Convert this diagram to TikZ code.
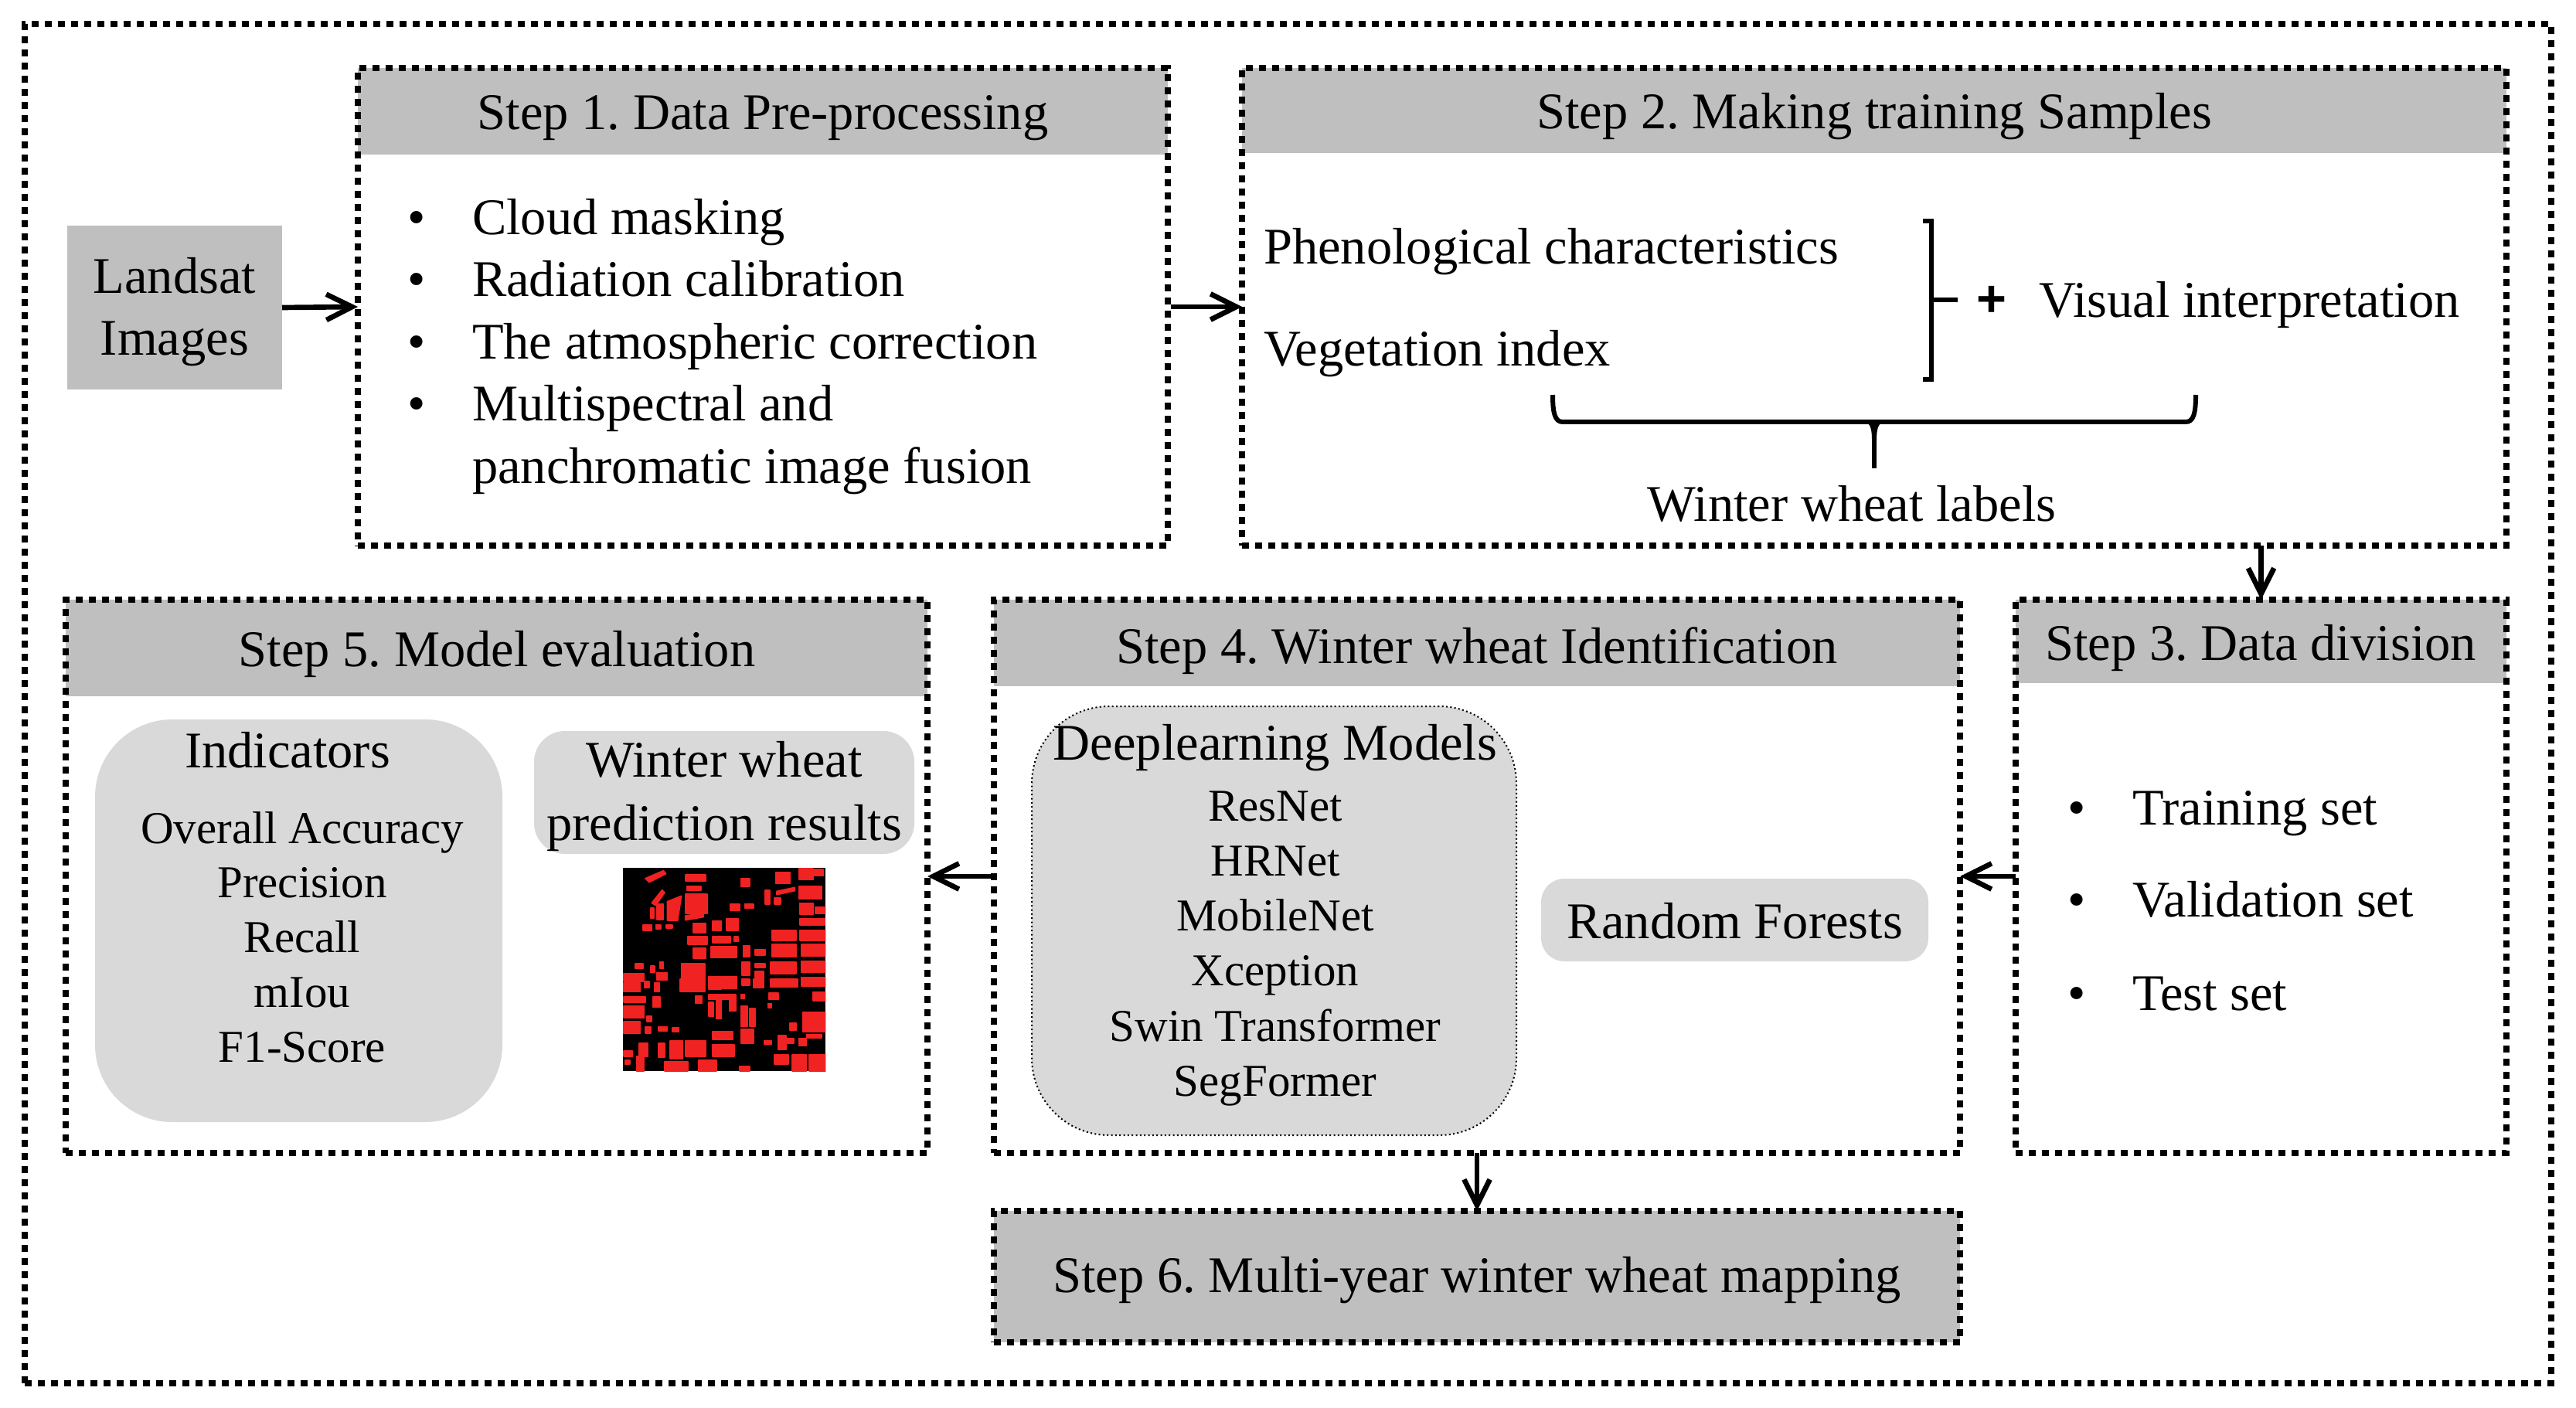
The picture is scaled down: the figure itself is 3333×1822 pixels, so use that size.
\documentclass[tikz,border=0pt]{standalone}
\usepackage{fontspec}
\setmainfont{Liberation Serif}
\newfontfamily\plusfont{Liberation Sans}
\frenchspacing
\usetikzlibrary{fit,arrows.meta}
\definecolor{hdr}{HTML}{BFBFBF}
\definecolor{pale}{HTML}{D9D9D9}
\definecolor{wheat}{HTML}{F02222}
\tikzset{
  every node/.style={font=\fontsize{19.95pt}{24pt}\selectfont,inner sep=0pt,outer sep=0pt},
  area/.style={inner sep=0pt},
  dotted frame/.style={area,draw=black,line width=2.4pt,dash pattern=on 2.7pt off 2.4pt},
  outer frame/.style={dotted frame},
  header/.style={area,fill=hdr},
  pill/.style={area,fill=pale,rounded corners=#1},
  flow/.style={draw=black,line width=2pt,-{Straight Barb[length=10pt,width=10pt,line width=2pt]}},
  brk/.style={draw=black,line width=1.8pt},
  txt/.style={anchor=base},
  ltxt/.style={anchor=base west},
  small txt/.style={anchor=base,font=\fontsize{17.7pt}{22pt}\selectfont},
}
\begin{document}
\begin{tikzpicture}[x=0.3pt,y=0.3pt]
\useasboundingbox (0,0) rectangle (3333,-1822);
\fill[white] (0,0) rectangle (3333,-1822);
% headers and fills
\node[header,fit={(463,-88)(1511,-200)}] (h1) {};
\node[anchor=base] (t1) at (987,-168) {Step 1. Data Pre-processing};
\node[header,fit={(1607,-88)(3243,-198)}] (h2) {};
\node[anchor=base] (t2) at (2425,-167) {Step 2. Making training Samples};
\node[header,fit={(2608,-776)(3243,-884)}] (h3) {};
\node[anchor=base] (t3) at (2925,-854) {Step 3. Data division};
\node[header,fit={(1286,-776)(2536,-888)}] (h4) {};
\node[anchor=base] (t4) at (1911,-858) {Step 4. Winter wheat Identification};
\node[header,fit={(85,-776)(1200,-901)}] (h5) {};
\node[anchor=base] (t5) at (643,-862) {Step 5. Model evaluation};
\node[header,fit={(1286,-1567)(2536,-1737)}] (h6f) {};
\node[anchor=base] (t6) at (1911,-1672) {Step 6. Multi-year winter wheat mapping};
\node[header,fit={(87,-292)(365,-504)}] (land) {};
\node[anchor=base] (l1) at (226,-380) {Landsat};
\node[anchor=base] (l2) at (226,-460) {Images};
% frames
\node[outer frame,fit={(32,-31)(3301,-1790)}] (outer) {};
\node[dotted frame,fit={(463,-88)(1511,-706)}] (s1) {};
\node[dotted frame,fit={(1607,-88)(3243,-706)}] (s2) {};
\node[dotted frame,fit={(2608,-776)(3243,-1492)}] (s3) {};
\node[dotted frame,fit={(1286,-776)(2536,-1492)}] (s4) {};
\node[dotted frame,fit={(85,-776)(1200,-1492)}] (s5) {};
\node[dotted frame,fit={(1286,-1567)(2536,-1737)}] (s6) {};
% step 1 list
\foreach \n/\y/\s in {a/304/Cloud masking,b/384/Radiation calibration,c/465/The atmospheric correction,d/545/Multispectral and}
  {\node[txt] (bul\n) at (539,-\y) {•};
   \node[ltxt] (it\n) at (611,-\y) {\s};}
\node[ltxt] (ite) at (611,-625) {panchromatic image fusion};
% step 2
\node[ltxt] (phen) at (1635,-342) {Phenological characteristics};
\node[ltxt] (veg) at (1635,-474) {Vegetation index};
\node[font=\fontsize{20pt}{24pt}\selectfont\plusfont\bfseries] (plus) at (2577,-390) {+};
\node[ltxt] (vis) at (2638,-411) {Visual interpretation};
\node[txt] (labs) at (2396,-674) {Winter wheat labels};
\draw[brk] (2488,-286) -- (2499,-286) -- (2499,-491) -- (2488,-491);
\draw[brk] (2499,-388) -- (2533,-388);
\draw[brk] (2009,-511) .. controls (2009,-535) and (2012,-546) .. (2022,-546) -- (2828,-546) .. controls (2838,-546) and (2841,-535) .. (2841,-511);
\draw[brk] (2425,-546) -- (2425,-606);
\fill[black] (2413,-546) .. controls (2420,-548) and (2422,-555) .. (2422,-570) -- (2428,-570) .. controls (2428,-555) and (2430,-548) .. (2437,-546) -- cycle;
% step 3 list
\foreach \n/\y/\s in {a/1067/Training set,b/1186/Validation set,c/1307/Test set}
  {\node[txt] (tb\n) at (2687,-\y) {•};
   \node[ltxt] (tt\n) at (2759,-\y) {\s};}
% step 4
\node[area,fill=pale,draw=black,line width=0.6pt,densely dotted,rounded corners=30pt,fit={(1335,-914)(1962,-1469)}] (deep) {};
\node[txt] (dm) at (1650,-983) {Deeplearning Models};
\foreach \n/\y/\s in {a/1062/ResNet,b/1133/HRNet,c/1204/MobileNet,d/1275/Xception,e/1347/Swin Transformer,f/1418/SegFormer}
  {\node[small txt] (m\n) at (1650,-\y) {\s};}
\node[pill=9pt,fit={(1994,-1137)(2495,-1244)}] (rfbox) {};
\node[txt] (rf) at (2245,-1214) {Random Forests};
% step 5
\node[pill=30pt,fit={(123,-931)(650,-1452)}] (ind) {};
\node[txt] (indt) at (372,-993) {Indicators};
\foreach \n/\y/\s in {a/1091/Overall Accuracy,b/1161/Precision,c/1232/Recall,d/1303/mIou,e/1374/F1-Score}
  {\node[small txt] (i\n) at (391,-\y) {\s};}
\node[pill=12pt,fit={(691,-946)(1183,-1105)}] (wbox) {};
\node[txt] (w1) at (937,-1005) {Winter wheat};
\node[txt] (w2) at (937,-1087) {prediction results};
% prediction image
\fill[black] (806,-1123) rectangle (1068,-1386);
\begin{scope}[shift={(700,-1000)},x=0.1pt,y=-0.1pt]
\clip (318,370) rectangle (1105,1158);
\begin{scope}[wheat,line join=round,line width=0.5pt]
\foreach \a/\b/\c/\d in {
560/395/640/420,565/440/620/455,560/470/645/545,775/410/810/440,910/385/965/430,1000/372/1055/415,1060/375/1095/400,1000/440/1090/490,870/455/888/510,905/485/930/510,735/510/770/535,790/510/825/525,1005/505/1055/550,1065/520/1105/545,1005/565/1100/590,490/500/530/572,450/510/475/570,425/525/438/565,395/590/430/612,445/590/465/607,485/590/510/602,590/585/640/620,665/575/700/612,720/565/765/612,895/612/990/650,1005/612/1105/650,570/635/645/665,665/635/735/660,750/635/765/655,590/680/640/720,660/675/760/718,785/670/810/715,830/685/870/708,895/665/990/715,1010/665/1105/712,1010/730/1105/775,545/740/635/800,540/800/635/848,650/790/700/840,705/790/760/838,780/735/810/785,830/740/870/755,830/770/865/795,780/800/810/825,825/800/865/835,890/735/990/780,890/800/995/832,1010/795/1105/828,320/780/400/810,320/815/385/850,400/810/420/835,425/750/440/775,450/775/490/805,365/740/395/760,460/735/475/760,440/815/460/850,320/870/405/890,320/905/400/950,320/965/385/1012,435/870/462/910,410/945/430/965,600/865/625/895,650/860/680/880,650/890/670/945,680/860/700/955,700/860/755/880,730/880/755/925,775/860/790/875,775/905/800/985,810/915/830/985,885/855/920/880,880/895/895/912,1055/850/1105/885,1015/930/1105/1005,965/970/990/1000,455/985/490/1002,510/990/535/1005,405/985/425/1010,665/1005/745/1035,775/995/825/1050,865/1040/895/1052,920/1020/950/1075,955/1030/980/1050,1000/1030/1030/1060,1030/1015/1090/1030,320/1080/355/1100,325/1115/345/1130,380/1050/415/1100,370/1100/400/1158,455/1050/480/1105,500/1040/550/1110,560/1040/640/1100,665/1055/750/1100,905/1095/960/1130,975/1095/1030/1158,1040/1095/1105/1158,480/1120/570/1158,610/1115/680/1158,770/1140/810/1158}
  {\filldraw (\a,\b) rectangle (\c,\d);}
\filldraw (405,410) -- (475,380) -- (485,392) -- (420,425) -- cycle;
\filldraw (430,505) -- (470,455) -- (480,465) -- (445,515) -- cycle;
\filldraw (490,500) -- (545,478) -- (530,572) -- (490,572) -- cycle;
\filldraw (915,460) -- (985,445) -- (985,458) -- (915,473) -- cycle;
\filldraw (560,555) -- (630,545) -- (630,560) -- (560,572) -- cycle;
\end{scope}
\end{scope}
% arrows
\draw[flow] (land.east) -- (s1.west);
\draw[flow,shorten <=1.2pt] (s1.east) -- (s2.west);
\draw[flow] (s3.north |- s2.south) -- (s3.north);
\draw[flow] (s3.west) -- (s4.east);
\draw[flow] (s4.west) -- (s5.east);
\draw[flow] (s4.south) -- (s6.north);
\end{tikzpicture}
\end{document}
